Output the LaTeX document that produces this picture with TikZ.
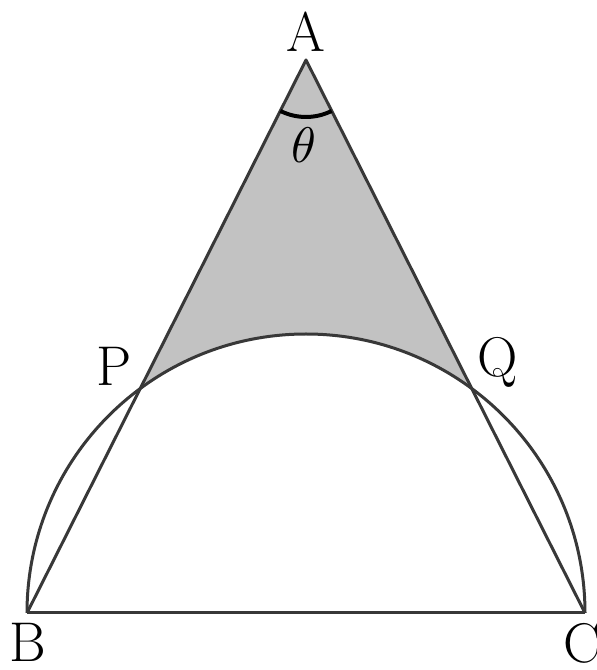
\documentclass[tikz,border=0pt]{standalone}
\usepackage{graphicx}
\usetikzlibrary{calc}
\begin{document}
\begin{tikzpicture}[x=1pt,y=1pt,
  edge/.style={draw=black!78,line width=3pt,line join=round},
  lbl/.style={font=\fontsize{56}{56}\selectfont,inner sep=0pt},
  shade/.style={fill=black!24}]
\useasboundingbox (0,0) rectangle (597,670);
\coordinate (O) at (306,57);
\coordinate (A) at (306,610);
\coordinate (B) at (27,57);
\coordinate (C) at (585,57);
\coordinate (P) at ($(O)+(126.45:279)$);
\coordinate (Q) at ($(O)+(53.55:279)$);
\fill[shade] (A) -- (P) arc[start angle=126.45,end angle=53.55,radius=279] -- cycle;
\draw[edge] (B) arc[start angle=180,end angle=0,radius=279];
\draw[edge] (B) -- (A) -- (C);
\draw[edge] (B) -- (C);
\draw[line width=4pt,black] ($(A)+(243.23:57)$) arc[start angle=243.23,end angle=296.77,radius=57];
\node[lbl] (la) at (306,638) {A};
\node[lbl] (lp) at (114,304) {P};
\node[lbl] (lq) at (498,308) {Q};
\node[lbl] (lb) at (28,28) {B};
\node[lbl] (lc) at (582,27) {C};
\node[inner sep=0pt] (lt) at (304,525) {\scalebox{5}{$\theta$}};
\end{tikzpicture}
\end{document}
